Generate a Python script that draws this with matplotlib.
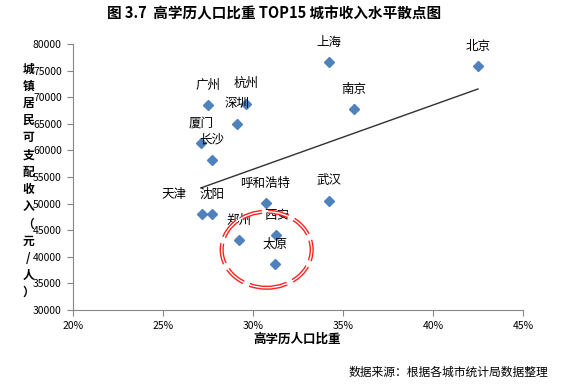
import matplotlib
matplotlib.use("Agg")
import matplotlib.pyplot as plt
import numpy as np
from matplotlib.patches import Ellipse

plt.rcParams['font.family'] = ['Noto Sans CJK SC', 'DejaVu Sans']

# data
cities = ['上海', '北京', '南京', '武汉', '广州', '杭州', '深圳', '厦门',
          '长沙', '呼和浩特', '天津', '沈阳', '郑州', '西安', '太原']
edu_share = [34.2, 42.5, 35.6, 34.2, 27.5, 29.6, 29.1, 27.1,
             27.7, 30.7, 27.15, 27.7, 29.2, 31.3, 31.2]
income = [76600, 75850, 67700, 50500, 68500, 68800, 65000, 61450,
          58250, 50050, 48000, 48000, 43150, 44050, 38600]

fig = plt.figure(figsize=(5.76, 3.85), dpi=100)
ax = fig.add_axes([0.1267, 0.1948, 0.7813, 0.6909])

ax.plot(edu_share, income, linestyle='none', marker='D', markersize=5,
        color='#4F81BD', zorder=3)

# linear trendline over the data range
k, b = np.polyfit(edu_share, income, 1)
xs = np.array([min(edu_share), max(edu_share)])
ax.plot(xs, k * xs + b, color='#303030', lw=1, zorder=2)

for name, x, y in zip(cities, edu_share, income):
    dx = -20 if name == '天津' else 0
    ax.annotate(name, (x, y), xytext=(dx, 14.4), textcoords='offset points',
                ha='center', va='center', fontsize=9, color='black')

# highlight circle
for lw, col, ls in [(3, '#FF2020', (0, (5, 1.5))), (1, 'white', '-')]:
    ax.add_patch(Ellipse((30.76, 41330), 5.0, 14300, fill=False,
                         edgecolor=col, lw=lw, linestyle=ls, zorder=4))

ax.set_xlim(20, 45)
ax.set_ylim(30000, 80000)
ax.set_xticks(np.arange(20, 46, 5))
ax.set_xticklabels([f'{v}%' for v in range(20, 46, 5)])
ax.set_yticks(np.arange(30000, 80001, 5000))
for s in ['top', 'right']:
    ax.spines[s].set_visible(False)
for s in ['left', 'bottom']:
    ax.spines[s].set_color('#868686')
ax.tick_params(direction='out', length=4, color='#868686', labelsize=7.5,
               pad=4)

fig.text(0.476, 0.966, '图 3.7  高学历人口比重 TOP15 城市收入水平散点图',
         ha='center', va='center', fontsize=10.5, fontweight='bold')
fig.text(0.515, 0.12, '高学历人口比重', ha='center', va='center',
         fontsize=9, fontweight='bold')
fig.text(0.049, 0.53, '\n'.join('城镇居民可支配收入（元/人）'), ha='center',
         va='center', fontsize=8.5, fontweight='bold', linespacing=1.42)
fig.text(0.952, 0.034, '数据来源：根据各城市统计局数据整理', ha='right',
         va='center', fontsize=8.5)

fig.savefig('out.png', dpi=100)
